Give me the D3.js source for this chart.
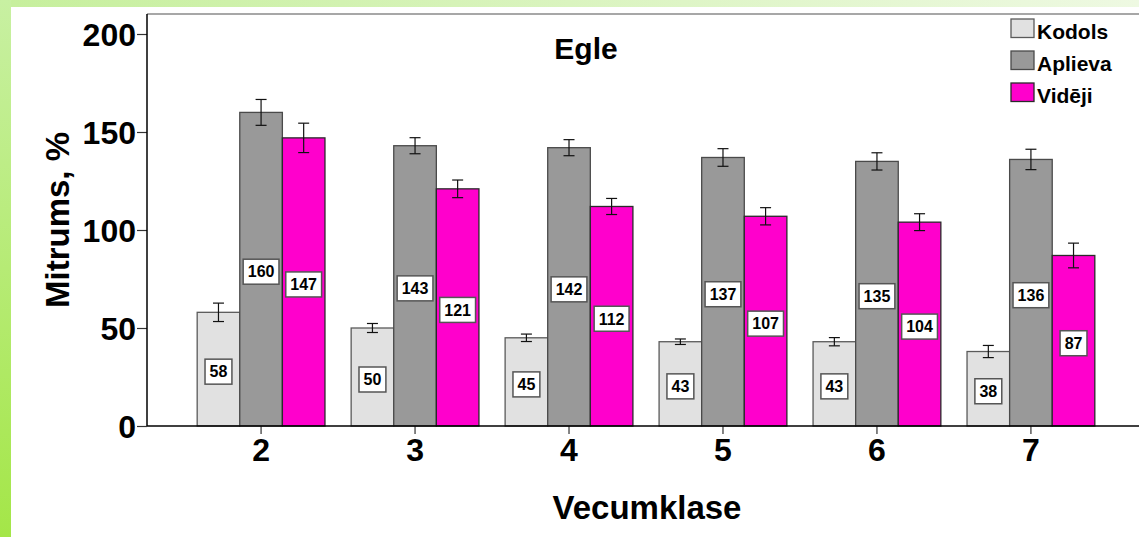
<!DOCTYPE html>
<html>
<head>
<meta charset="utf-8">
<script src="https://cdn.jsdelivr.net/npm/d3@7"></script>
<style>
  body { margin: 0; background: #fff; }
  text { font-family: "Liberation Sans", Arial, sans-serif; font-weight: bold; }
</style>
</head>
<body>
<div id="chart"></div>
<script>
// data
var categories = ["2", "3", "4", "5", "6", "7"];
var seriesNames = ["Kodols", "Aplieva", "Vidēji"];
var kodols  = [58, 50, 45, 43, 43, 38];
var aplieva = [160, 143, 142, 137, 135, 136];
var videji  = [147, 121, 112, 107, 104, 87];
// half-length of the error bars
var kodolsErr  = [4.7, 2.3, 1.9, 1.4, 2.1, 3.1];
var aplievaErr = [6.6, 4.1, 4.1, 4.5, 4.4, 5.2];
var videjiErr  = [7.5, 4.5, 4.1, 4.4, 4.3, 6.3];
var yTicks = [0, 50, 100, 150, 200];

var colors = {"Kodols": "#e1e1e1", "Aplieva": "#999999", "Vidēji": "#ff00cc"};
var strokes = {"Kodols": "#5a5a5a", "Aplieva": "#4a4a4a", "Vidēji": "#2a2a2a"};

var rows = categories.map(function (c, i) {
  return {
    cat: c,
    bars: [
      {name: "Kodols", v: kodols[i], e: kodolsErr[i]},
      {name: "Aplieva", v: aplieva[i], e: aplievaErr[i]},
      {name: "Vidēji", v: videji[i], e: videjiErr[i]}
    ]
  };
});

var W = 1139, H = 537;
var plot = {left: 147, top: 14, right: W, bottom: 426};

var svg = d3.select("#chart").append("svg")
  .attr("width", W).attr("height", H);

// green frame strips
var defs = svg.append("defs");
var gl = defs.append("linearGradient").attr("id", "gLeft")
  .attr("x1", 0).attr("y1", 0).attr("x2", 0).attr("y2", 1);
gl.append("stop").attr("offset", 0).attr("stop-color", "#c8f0a2");
gl.append("stop").attr("offset", 1).attr("stop-color", "#a4e648");
var gt = defs.append("linearGradient").attr("id", "gTop")
  .attr("x1", 0).attr("y1", 0).attr("x2", 1).attr("y2", 0);
gt.append("stop").attr("offset", 0).attr("stop-color", "#c6ef9c");
gt.append("stop").attr("offset", 1).attr("stop-color", "#eef9e2");
svg.append("rect").attr("x", 0).attr("y", 0).attr("width", W).attr("height", 7)
  .attr("fill", "url(#gTop)");
svg.append("rect").attr("x", 0).attr("y", 0).attr("width", 11).attr("height", H)
  .attr("fill", "url(#gLeft)");

// scales
var y = d3.scaleLinear().domain([0, 200]).range([plot.bottom, 34]);
var x0 = d3.scaleBand().domain(categories).range([171, 1121]).padding(0.17);
var x1 = d3.scaleBand().domain(seriesNames).range([0, x0.bandwidth()]);

// plot frame top line
svg.append("line")
  .attr("x1", plot.left).attr("x2", plot.right)
  .attr("y1", plot.top).attr("y2", plot.top)
  .attr("stroke", "#8a8a8a").attr("stroke-width", 1.5);

// bars
var groups = svg.append("g").selectAll("g")
  .data(rows).enter().append("g")
  .attr("transform", function (d) { return "translate(" + x0(d.cat) + ",0)"; });

groups.selectAll("rect.bar")
  .data(function (d) { return d.bars; })
  .enter().append("rect")
  .attr("class", "bar")
  .attr("x", function (d) { return x1(d.name); })
  .attr("y", function (d) { return y(d.v); })
  .attr("width", x1.bandwidth())
  .attr("height", function (d) { return y(0) - y(d.v); })
  .attr("fill", function (d) { return colors[d.name]; })
  .attr("stroke", function (d) { return strokes[d.name]; })
  .attr("stroke-width", 1.3);

// error bars
var eb = groups.selectAll("g.err")
  .data(function (d) { return d.bars; })
  .enter().append("g").attr("class", "err")
  .attr("stroke", "#111").attr("stroke-width", 1.2);
var cx = function (d) { return x1(d.name) + x1.bandwidth() / 2; };
eb.append("line")
  .attr("x1", cx).attr("x2", cx)
  .attr("y1", function (d) { return y(d.v + d.e); })
  .attr("y2", function (d) { return y(d.v - d.e); });
eb.append("line")
  .attr("x1", function (d) { return cx(d) - 5.5; })
  .attr("x2", function (d) { return cx(d) + 5.5; })
  .attr("y1", function (d) { return y(d.v + d.e); })
  .attr("y2", function (d) { return y(d.v + d.e); });
eb.append("line")
  .attr("x1", function (d) { return cx(d) - 5.5; })
  .attr("x2", function (d) { return cx(d) + 5.5; })
  .attr("y1", function (d) { return y(d.v - d.e); })
  .attr("y2", function (d) { return y(d.v - d.e); });

// value labels in boxes
var lab = groups.selectAll("g.lab")
  .data(function (d) { return d.bars; })
  .enter().append("g").attr("class", "lab")
  .attr("transform", function (d) {
    return "translate(" + cx(d) + "," + (y(d.v / 2) + 2.5) + ")";
  });
var labRect = lab.append("rect")
  .attr("fill", "#fff").attr("stroke", "#555").attr("stroke-width", 1.5);
lab.append("text")
  .attr("text-anchor", "middle")
  .attr("dy", "0.36em")
  .style("font-size", "16px")
  .text(function (d) { return d.v; });
lab.each(function () {
  var g = d3.select(this);
  var bb = g.select("text").node().getBBox();
  g.select("rect")
    .attr("x", -bb.width / 2 - 4.5).attr("y", -12.5)
    .attr("width", bb.width + 9).attr("height", 25);
});

// y axis
var yAxis = svg.append("g")
  .attr("transform", "translate(" + plot.left + ",0)")
  .call(d3.axisLeft(y).tickValues(yTicks).tickSize(10).tickPadding(1));
yAxis.select(".domain").remove();
yAxis.selectAll(".tick line").attr("stroke", "#333").attr("stroke-width", 1.2);
yAxis.selectAll(".tick text")
  .attr("fill", "#000")
  .style("font-size", "32px")
  .style("font-family", "'Liberation Sans', Arial, sans-serif")
  .attr("dy", "0.36em");
svg.append("line")
  .attr("x1", plot.left).attr("x2", plot.left)
  .attr("y1", plot.top).attr("y2", plot.bottom)
  .attr("stroke", "#000").attr("stroke-width", 1.5);

// x axis
var xAxis = svg.append("g")
  .attr("transform", "translate(0," + plot.bottom + ")")
  .call(d3.axisBottom(x0).tickSize(8).tickPadding(4));
xAxis.select(".domain").remove();
xAxis.selectAll(".tick line").attr("stroke", "#333").attr("stroke-width", 1.2);
xAxis.selectAll(".tick text")
  .attr("fill", "#000")
  .style("font-size", "32px")
  .style("font-family", "'Liberation Sans', Arial, sans-serif");
svg.append("line")
  .attr("x1", plot.left).attr("x2", plot.right)
  .attr("y1", plot.bottom).attr("y2", plot.bottom)
  .attr("stroke", "#000").attr("stroke-width", 1.5);

// titles
svg.append("text")
  .attr("x", 586).attr("y", 59)
  .attr("text-anchor", "middle")
  .style("font-size", "30px")
  .text("Egle");

svg.append("text")
  .attr("x", 647).attr("y", 519)
  .attr("text-anchor", "middle")
  .style("font-size", "33px")
  .text("Vecumklase");

svg.append("text")
  .attr("transform", "translate(69," + ((plot.top + plot.bottom) / 2) + ") rotate(-90)")
  .attr("text-anchor", "middle")
  .style("font-size", "33px")
  .text("Mitrums, %");

// legend
var legend = svg.append("g").selectAll("g")
  .data(seriesNames).enter().append("g")
  .attr("transform", function (d, i) { return "translate(1011," + (19 + i * 32) + ")"; });
legend.append("rect")
  .attr("width", 23).attr("height", 18.5)
  .attr("fill", function (d) { return colors[d]; })
  .attr("stroke", function (d) { return strokes[d]; })
  .attr("stroke-width", 1.3);
legend.append("text")
  .attr("x", 26).attr("y", 20)
  .style("font-size", "21px")
  .text(function (d) { return d; });
</script>
</body>
</html>
